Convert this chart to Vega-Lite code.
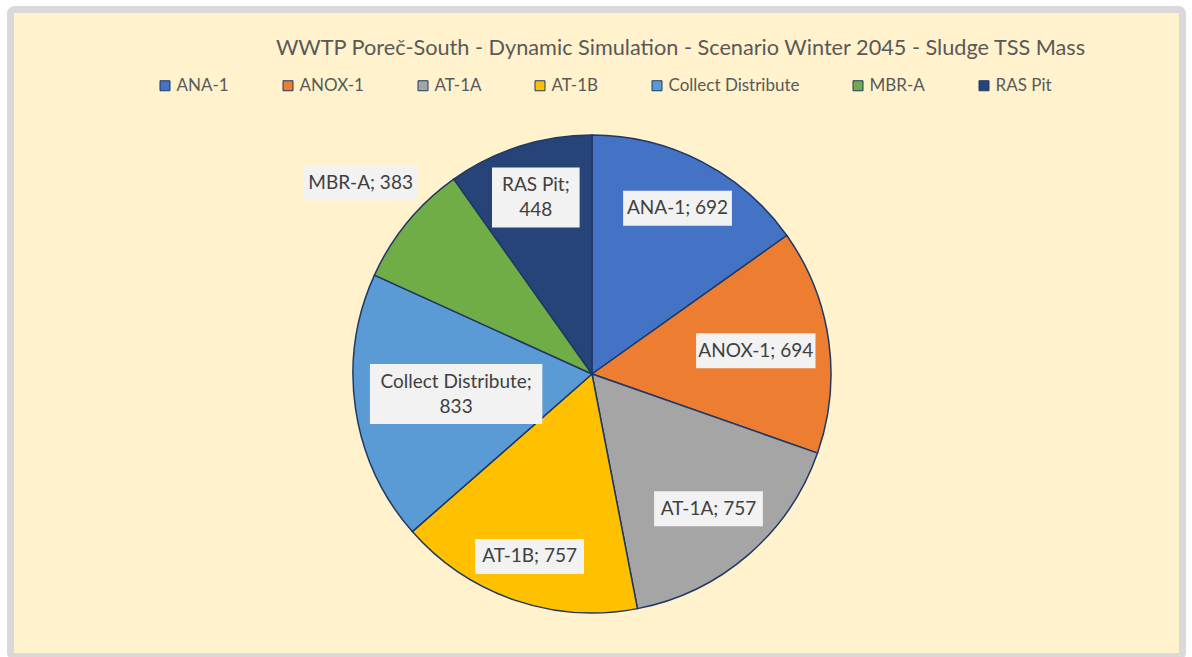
{
  "$schema": "https://vega.github.io/schema/vega-lite/v6.json",
  "width": 1172,
  "height": 647,
  "autosize": {"type": "none"},
  "padding": {"left": 10.5, "top": 9.5, "right": 9.5, "bottom": 0.5},
  "background": "#FFFFFF",
  "view": {"fill": "#FFF2CC", "stroke": "#D9D9D9", "strokeWidth": 7, "cornerRadius": 4},
  "title": {
    "text": "WWTP Poreč-South - Dynamic Simulation - Scenario Winter 2045 - Sludge TSS Mass",
    "font": "Lato", "fontSize": 21.7, "fontWeight": "normal", "color": "#595959",
    "anchor": "middle", "frame": "group", "offset": 0, "dx": 84, "dy": 67, "baseline": "alphabetic"
  },
  "data": {
    "values": [
      {"category": "ANA-1", "value": 692},
      {"category": "ANOX-1", "value": 694},
      {"category": "AT-1A", "value": 757},
      {"category": "AT-1B", "value": 757},
      {"category": "Collect Distribute", "value": 833},
      {"category": "MBR-A", "value": 383},
      {"category": "RAS Pit", "value": 448}
    ]
  },
  "transform": [
    {"window": [{"op": "sum", "field": "value", "as": "cum"}], "sort": [{"field": "category", "order": "ascending"}], "frame": [null, 0]},
    {"joinaggregate": [{"op": "sum", "field": "value", "as": "total"}]},
    {"calculate": "(datum.cum - datum.value / 2) / datum.total * 2 * PI", "as": "ang"},
    {"calculate": "indexof(datum.category, ' ') >= 0", "as": "two"},
    {"calculate": "datum.two ? datum.category + ';\\n' + datum.value : datum.category + '; ' + datum.value", "as": "label"},
    {"calculate": "datum.two ? (length(datum.category) + 1 >= length('' + datum.value) ? datum.category + ';' : '' + datum.value) : datum.category + '; ' + datum.value", "as": "longest"},
    {"calculate": "length(datum.longest) - 0.5 * (length(datum.longest) - length(replace(datum.longest, regexp('[iltfrj; 1-]', 'g'), '')))", "as": "eff"},
    {"calculate": "5.3 * datum.eff + 12", "as": "hw"},
    {"calculate": "datum.two ? 30 : 17.5", "as": "hh"},
    {"calculate": "abs(datum.hw * sin(datum.ang)) + abs(datum.hh * cos(datum.ang))", "as": "ext"},
    {"calculate": "datum.value / datum.total < 0.09 ? 245 + datum.ext : 227 - datum.ext", "as": "lr"},
    {"calculate": "datum.lr * sin(datum.ang)", "as": "lx"},
    {"calculate": "datum.lr * cos(datum.ang)", "as": "ly"},
    {"calculate": "datum.ly + (datum.two ? 12.5 : 0)", "as": "ty"},
    {"calculate": "datum.lx - datum.hw", "as": "bx1"},
    {"calculate": "datum.lx + datum.hw", "as": "bx2"},
    {"calculate": "datum.ly - datum.hh", "as": "by1"},
    {"calculate": "datum.ly + datum.hh", "as": "by2"}
  ],
  "layer": [
    {
      "mark": {"type": "arc", "outerRadius": 239, "stroke": "#1F3864", "strokeWidth": 1.5},
      "encoding": {
        "x": {"datum": 0, "type": "quantitative", "scale": {"domain": [-581.5, 590.5], "nice": false, "zero": false}, "axis": null},
        "y": {"datum": 0, "type": "quantitative", "scale": {"domain": [-282.5, 364.5], "nice": false, "zero": false}, "axis": null},
        "theta": {"field": "value", "type": "quantitative", "stack": true},
        "order": {"field": "category", "sort": "ascending"},
        "color": {
          "field": "category", "type": "nominal",
          "scale": {
            "domain": ["ANA-1", "ANOX-1", "AT-1A", "AT-1B", "Collect Distribute", "MBR-A", "RAS Pit"],
            "range": ["#4472C4", "#ED7D31", "#A5A5A5", "#FFC000", "#5B9BD5", "#70AD47", "#264478"]
          },
          "legend": {
            "orient": "none", "legendX": 146, "legendY": 67.5, "direction": "horizontal",
            "title": null, "symbolType": "square", "symbolSize": 100,
            "symbolStrokeColor": "#1F3864", "symbolStrokeWidth": 1, "symbolOpacity": 1,
            "labelFont": "Lato", "labelFontSize": 17, "labelColor": "#595959",
            "columnPadding": 50, "labelOffset": 3, "padding": 0
          }
        }
      }
    },
    {
      "mark": {"type": "rect", "fill": "#F2F2F2"},
      "encoding": {
        "x": {"field": "bx1", "type": "quantitative", "axis": null},
        "x2": {"field": "bx2"},
        "y": {"field": "by1", "type": "quantitative", "axis": null},
        "y2": {"field": "by2"}
      }
    },
    {
      "mark": {"type": "text", "font": "Lato", "fontSize": 19, "color": "#404040", "align": "center", "baseline": "middle", "lineBreak": "\n", "lineHeight": 25},
      "encoding": {
        "x": {"field": "lx", "type": "quantitative", "axis": null},
        "y": {"field": "ty", "type": "quantitative", "axis": null},
        "text": {"field": "label", "type": "nominal"}
      }
    }
  ]
}
